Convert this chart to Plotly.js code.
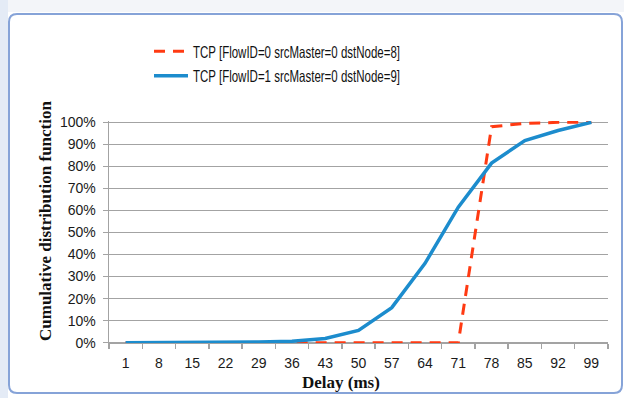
<!DOCTYPE html>
<html>
<head>
<meta charset="utf-8">
<script src="https://cdn.plot.ly/plotly-3.0.1.min.js"></script>
<style>
  html, body { margin: 0; padding: 0; background: #ffffff; }
  #chart { width: 624px; height: 398px; }
</style>
</head>
<body>
<div id="chart"></div>
<script>
// Delay buckets (ms) shown on the category axis
const delays = ['1', '8', '15', '22', '29', '36', '43', '50', '57', '64', '71', '78', '85', '92', '99'];

// Cumulative share of packets (%) per delay bucket
const flow0Cdf = [0, 0, 0, 0, 0, 0, 0, 0, 0, 0, 0, 98, 99.5, 100, 100];
const flow1Cdf = [0, 0, 0.1, 0.2, 0.3, 0.7, 1.9, 5.6, 15.9, 36, 61.5, 81.5, 91.7, 96.3, 100];

const seriesNames = [
  'TCP [FlowID=0 srcMaster=0 dstNode=8]',
  'TCP [FlowID=1 srcMaster=0 dstNode=9]'
];

const W = 624, H = 398;
const M = { l: 109, r: 16, t: 121, b: 54 };
const plotW = W - M.l - M.r, plotH = H - M.t - M.b;
const yRange = [-0.6, 100.6];

// pixel -> paper helpers for the frame decoration
const px = x => (x - M.l) / plotW;
const py = y => (H - M.b - y) / plotH;

function roundedRect(x0, y0, x1, y1, r) {
  const X = v => px(v).toFixed(5), Y = v => py(v).toFixed(5);
  return `M ${X(x0 + r)},${Y(y0)} L ${X(x1 - r)},${Y(y0)} ` +
    `Q ${X(x1)},${Y(y0)} ${X(x1)},${Y(y0 + r)} L ${X(x1)},${Y(y1 - r)} ` +
    `Q ${X(x1)},${Y(y1)} ${X(x1 - r)},${Y(y1)} L ${X(x0 + r)},${Y(y1)} ` +
    `Q ${X(x0)},${Y(y1)} ${X(x0)},${Y(y1 - r)} L ${X(x0)},${Y(y0 + r)} ` +
    `Q ${X(x0)},${Y(y0)} ${X(x0 + r)},${Y(y0)} Z`;
}

const traces = [
  {
    x: delays, y: flow0Cdf, name: seriesNames[0], legendgroup: 'f0',
    type: 'scatter', mode: 'lines',
    line: { color: '#ff3a12', width: 3, dash: '11px,8px' }
  },
  {
    x: delays, y: flow1Cdf, name: seriesNames[1], legendgroup: 'f1',
    type: 'scatter', mode: 'lines',
    line: { color: '#1c8ccd', width: 3.5 }
  }
];

const axisGrey = '#a3a3a3';
const tickFont = { family: 'Liberation Sans, Arial, sans-serif', size: 14, color: '#1a1a1a' };
const titleFont = { family: 'Liberation Serif, Times New Roman, serif', size: 17, color: '#111111', weight: 'bold' };

const layout = {
  width: W, height: H,
  margin: M,
  paper_bgcolor: '#ffffff',
  plot_bgcolor: '#ffffff',
  showlegend: true,
  legend: {
    x: px(149), y: py(34), xanchor: 'left', yanchor: 'top',
    font: { family: 'Liberation Sans, Arial, sans-serif', size: 16.5, color: '#111111' },
    bgcolor: 'rgba(0,0,0,0)', borderwidth: 0,
    itemwidth: 34, tracegroupgap: 0
  },
  xaxis: {
    type: 'category',
    range: [-0.5, delays.length - 0.5],
    anchor: 'free',
    position: (0 - yRange[0]) / (yRange[1] - yRange[0]),
    showgrid: false, zeroline: false,
    showline: true, linecolor: axisGrey, linewidth: 1.5,
    ticks: 'outside', tickson: 'boundaries', ticklen: 5, tickcolor: axisGrey, tickwidth: 1.5,
    ticklabelstandoff: 7,
    tickfont: tickFont,
    fixedrange: true
  },
  yaxis: {
    range: yRange,
    tickvals: [0, 10, 20, 30, 40, 50, 60, 70, 80, 90, 100],
    ticktext: ['0%', '10%', '20%', '30%', '40%', '50%', '60%', '70%', '80%', '90%', '100%'],
    showgrid: true, gridcolor: axisGrey, gridwidth: 1.5,
    zeroline: false,
    showline: true, linecolor: axisGrey, linewidth: 1.5,
    ticks: 'outside', ticklen: 5, tickcolor: axisGrey, tickwidth: 1.5,
    ticklabelstandoff: 4,
    tickfont: tickFont,
    fixedrange: true
  },
  annotations: [
    {
      text: 'Cumulative distribution function',
      xref: 'paper', yref: 'paper', x: px(45), y: py(221),
      xanchor: 'center', yanchor: 'middle', textangle: -90,
      showarrow: false, font: titleFont
    },
    {
      text: 'Delay (ms)',
      xref: 'paper', yref: 'paper', x: px(341), y: py(382),
      xanchor: 'center', yanchor: 'middle',
      showarrow: false, font: titleFont
    }
  ],
  shapes: [
    // surrounding worksheet strips
    { type: 'rect', xref: 'paper', yref: 'paper', x0: px(0), x1: px(8), y0: py(398), y1: py(0),
      fillcolor: '#e4ebf6', line: { width: 0 }, layer: 'below' },
    { type: 'rect', xref: 'paper', yref: 'paper', x0: px(8), x1: px(624), y0: py(12), y1: py(0),
      fillcolor: '#f3f5f9', line: { width: 0 }, layer: 'below' },
    // chart-area frame
    { type: 'path', xref: 'paper', yref: 'paper', path: roundedRect(9, 14, 622, 393, 8),
      fillcolor: 'rgba(0,0,0,0)', line: { color: '#86a3d8', width: 2 }, layer: 'below' }
  ]
};

Plotly.newPlot('chart', traces, layout, { displayModeBar: false, staticPlot: true })
  .then(gd => {
    // legend entries use a narrow face: squeeze the labels horizontally
    gd.querySelectorAll('.legendtext').forEach(t => {
      t.setAttribute('textLength', '207');
      t.setAttribute('lengthAdjust', 'spacingAndGlyphs');
    });
  });
</script>
</body>
</html>
